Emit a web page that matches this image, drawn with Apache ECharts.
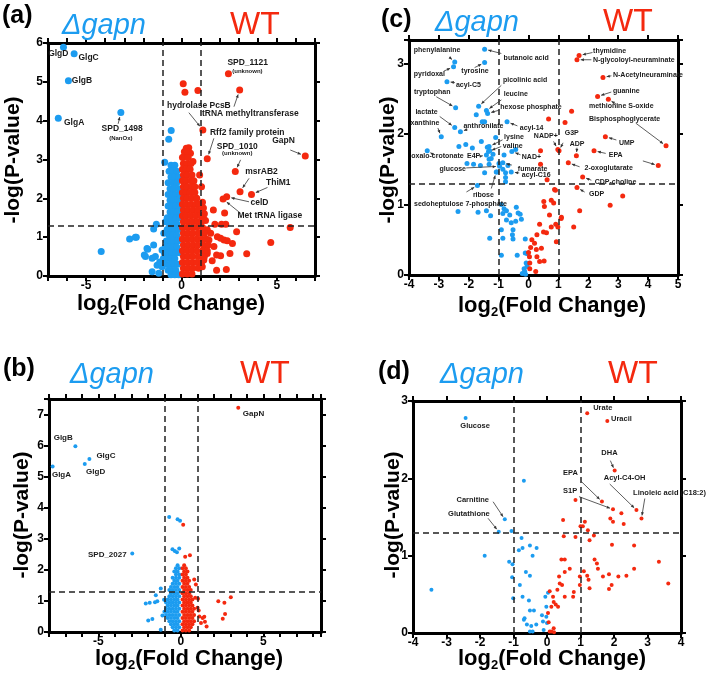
<!DOCTYPE html>
<html><head><meta charset="utf-8">
<script src="https://cdn.jsdelivr.net/npm/echarts@6/dist/echarts.min.js"></script>
<style>html,body{margin:0;padding:0;background:#fff}#c{width:709px;height:677px}</style>
</head><body><div id="c"></div>
<script>
// ---------------- DATA ----------------
// thresholds: log2FC = ±1, -log10(p) = 1.3
const fcCut = [-1, 1];
const pCut = 1.3;

// Panel (a) proteome
const aBlueLabeled = [['GlgD',-6.19,5.89],['GlgC',-5.63,5.72],['GlgB',-5.93,5.03],['GlgA',-6.46,4.06],['SPD_1498',-3.18,4.21]];
const aBlue = [[-0.54,3.75],[-0.67,3.52],[-0.88,2.93],[-4.21,0.63],[-2.72,0.95],[-2.42,1.0],[-1.32,1.33],[-1.46,1.21],[-2.37,1.0],
 [-1.81,0.71],[-1.46,0.8],[-1.37,0.5],[-1.54,0.46],[-1.89,0.5],[-1.28,0.28],[-1.54,0.11],[-1.02,0.24],[-1.95,0.54],[-1.77,0.69],
 [-1.19,0.07],[-0.93,1.1],[-0.84,1.4],[-1.02,0.67],[-1.14,0.36],
 [-0.55,2.85],[-0.35,2.85],[-0.65,2.7],[-0.45,2.7],[-0.25,2.7],[-0.55,2.55],[-0.35,2.55],[-0.15,2.55],[-0.7,2.4],[-0.45,2.4],[-0.25,2.4],
 [-0.6,2.25],[-0.4,2.25],[-0.15,2.25],[-0.7,2.1],[-0.5,2.1],[-0.3,2.1],[-0.1,2.1],[-0.6,1.95],[-0.4,1.95],[-0.2,1.95],
 [-0.7,1.8],[-0.5,1.8],[-0.3,1.8],[-0.1,1.8],[-0.6,1.65],[-0.4,1.65],[-0.2,1.65],[-0.75,1.5],[-0.5,1.5],[-0.3,1.5],[-0.1,1.5],
 [-0.65,1.35],[-0.45,1.35],[-0.25,1.35],[-0.75,1.2],[-0.55,1.2],[-0.35,1.2],[-0.15,1.2],[-0.65,1.05],[-0.45,1.05],[-0.25,1.05],
 [-0.8,0.9],[-0.6,0.9],[-0.4,0.9],[-0.2,0.9],[-0.85,0.75],[-0.65,0.75],[-0.45,0.75],[-0.25,0.75],
 [-0.9,0.6],[-0.7,0.6],[-0.5,0.6],[-0.3,0.6],[-0.1,0.6],[-0.95,0.45],[-0.75,0.45],[-0.55,0.45],[-0.35,0.45],
 [-0.85,0.3],[-0.6,0.3],[-0.4,0.3],[-0.2,0.3],[-0.7,0.15],[-0.5,0.15],[-0.3,0.15],[-0.55,0.03],[-0.35,0.03],[-0.15,0.03]];
const aRedLabeled = [['SPD_1121',2.46,5.21],['tRNA methyltransferase',3.05,4.79],['hydrolase PcsB',1.12,3.76],['Rff2 family protein',1.35,3.02],
 ['GapN',6.49,3.09],['SPD_1010',2.82,2.69],['msrAB2',3.07,2.17],['ThiM1',3.67,2.10],['celD',2.37,2.04],['Met tRNA ligase',2.18,1.98]];
const aRed = [[0.09,4.95],[0.18,4.73],[0.86,4.78],[0.25,3.29],[0.47,3.16],[0.12,3.07],[0.38,3.3],[0.6,2.95],
 [5.70,1.25],[4.68,0.86],[3.42,0.57],[2.89,1.14],[2.54,0.58],[1.84,0.54],[1.61,0.39],[1.84,0.15],[1.67,1.70],[2.26,1.62],
 [1.26,1.43],[1.75,1.33],[2.1,1.33],[2.32,1.33],[1.14,1.51],[1.53,1.10],[1.88,1.01],[2.23,0.93],[2.67,0.84],[2.40,0.91],[2.05,0.97],
 [1.35,1.19],[1.44,0.93],[1.26,0.76],[1.70,0.76],[1.35,0.58],[1.17,0.41],[1.09,0.24],[2.05,0.52],[2.35,0.17],
 [1.05,2.3],[1.1,1.9],[1.15,1.75],[1.2,1.6],[0.95,2.6],
 [0.15,3.2],[0.3,3.2],[0.05,3.05],[0.35,3.05],[0.1,2.9],[0.3,2.9],[0.5,2.9],[0.05,2.75],[0.25,2.75],[0.45,2.75],
 [0.1,2.6],[0.3,2.6],[0.55,2.6],[0.05,2.45],[0.25,2.45],[0.5,2.45],[0.65,2.45],[0.1,2.3],[0.3,2.3],[0.55,2.3],[0.7,2.3],
 [0.05,2.15],[0.25,2.15],[0.45,2.15],[0.7,2.15],[0.1,2.0],[0.3,2.0],[0.55,2.0],[0.8,2.0],
 [0.05,1.85],[0.25,1.85],[0.5,1.85],[0.75,1.85],[0.9,1.85],[0.1,1.7],[0.35,1.7],[0.6,1.7],[0.85,1.7],
 [0.05,1.55],[0.25,1.55],[0.5,1.55],[0.75,1.55],[1.0,1.55],[0.1,1.4],[0.35,1.4],[0.6,1.4],[0.85,1.4],[1.05,1.4],
 [0.05,1.25],[0.3,1.25],[0.55,1.25],[0.8,1.25],[1.1,1.25],[0.1,1.1],[0.35,1.1],[0.6,1.1],[0.9,1.1],[1.2,1.1],
 [0.05,0.95],[0.3,0.95],[0.55,0.95],[0.8,0.95],[1.05,0.95],[1.3,0.95],[0.1,0.8],[0.35,0.8],[0.6,0.8],[0.85,0.8],[1.15,0.8],[1.4,0.8],
 [0.05,0.65],[0.3,0.65],[0.55,0.65],[0.8,0.65],[1.1,0.65],[1.35,0.65],[0.1,0.5],[0.35,0.5],[0.6,0.5],[0.9,0.5],[1.2,0.5],
 [0.05,0.35],[0.3,0.35],[0.55,0.35],[0.8,0.35],[1.05,0.35],[0.1,0.2],[0.35,0.2],[0.6,0.2],[0.9,0.2],[0.05,0.05],[0.3,0.05],[0.55,0.05]];

// Panel (b) proteome
const bBlueLabeled = [['GlgB',-6.40,5.98],['GlgC',-5.55,5.57],['GlgD',-5.83,5.41],['GlgA',-7.78,5.33],['SPD_2027',-2.95,2.53]];
const bBlue = [[-0.71,3.70],[-0.20,3.63],[-0.05,3.58],[-0.51,2.66],[-0.10,2.69],[-0.37,2.61],[-0.24,2.57],
 [-1.22,1.40],[-1.52,1.18],[-1.43,0.99],[-1.89,0.94],[-1.57,0.96],[-1.73,0.42],[-1.98,0.37],[-1.22,0.07],[-1.12,0.53],[-2.13,0.92],[-1.02,1.04],
 [-0.2,2.15],[-0.3,2.05],[-0.1,2.05],[-0.4,1.95],[-0.2,1.95],[-0.3,1.85],[-0.1,1.85],[-0.5,1.75],[-0.3,1.75],[-0.1,1.75],
 [-0.4,1.65],[-0.2,1.65],[-0.5,1.55],[-0.3,1.55],[-0.1,1.55],[-0.6,1.45],[-0.4,1.45],[-0.2,1.45],
 [-0.7,1.35],[-0.5,1.35],[-0.3,1.35],[-0.1,1.35],[-0.6,1.25],[-0.4,1.25],[-0.2,1.25],[-0.7,1.15],[-0.5,1.15],[-0.3,1.15],[-0.1,1.15],
 [-0.8,1.05],[-0.6,1.05],[-0.4,1.05],[-0.2,1.05],[-0.9,0.95],[-0.7,0.95],[-0.5,0.95],[-0.3,0.95],[-0.1,0.95],
 [-0.8,0.85],[-0.6,0.85],[-0.4,0.85],[-0.2,0.85],[-0.9,0.75],[-0.7,0.75],[-0.5,0.75],[-0.3,0.75],[-0.1,0.75],
 [-1.0,0.65],[-0.8,0.65],[-0.6,0.65],[-0.4,0.65],[-0.2,0.65],[-0.9,0.55],[-0.7,0.55],[-0.5,0.55],[-0.3,0.55],[-0.1,0.55],
 [-0.8,0.45],[-0.6,0.45],[-0.4,0.45],[-0.2,0.45],[-0.7,0.35],[-0.5,0.35],[-0.3,0.35],[-0.1,0.35],
 [-0.6,0.25],[-0.4,0.25],[-0.2,0.25],[-0.5,0.15],[-0.3,0.15],[-0.1,0.15],[-0.4,0.05],[-0.2,0.05]];
const bRedLabeled = [['GapN',3.48,7.22]];
const bRed = [[0.14,3.45],[0.55,2.47],[0.26,2.42],[3.03,1.12],[2.27,0.99],[2.64,0.94],[2.68,0.58],[2.54,0.43],[1.42,0.49],[1.56,0.18],
 [1.46,0.33],[0.81,1.69],[0.91,1.53],[0.87,1.10],[1.01,0.78],[1.12,0.50],[1.22,0.29],[1.32,0.45],[1.08,0.69],[1.04,1.07],
 [0.2,2.15],[0.1,2.05],[0.3,2.05],[0.2,1.95],[0.4,1.95],[0.1,1.85],[0.3,1.85],[0.2,1.75],[0.4,1.75],
 [0.1,1.65],[0.3,1.65],[0.5,1.65],[0.2,1.55],[0.4,1.55],[0.1,1.45],[0.3,1.45],[0.5,1.45],[0.2,1.35],[0.4,1.35],[0.6,1.35],
 [0.1,1.25],[0.3,1.25],[0.5,1.25],[0.2,1.15],[0.4,1.15],[0.6,1.15],[0.1,1.05],[0.3,1.05],[0.5,1.05],[0.7,1.05],
 [0.2,0.95],[0.4,0.95],[0.6,0.95],[0.1,0.85],[0.3,0.85],[0.5,0.85],[0.7,0.85],[0.2,0.75],[0.4,0.75],[0.6,0.75],[0.8,0.75],
 [0.1,0.65],[0.3,0.65],[0.5,0.65],[0.7,0.65],[0.2,0.55],[0.4,0.55],[0.6,0.55],[0.8,0.55],[0.1,0.45],[0.3,0.45],[0.5,0.45],[0.7,0.45],
 [0.2,0.35],[0.4,0.35],[0.6,0.35],[0.8,0.35],[0.1,0.25],[0.3,0.25],[0.5,0.25],[0.7,0.25],[0.2,0.15],[0.4,0.15],[0.6,0.15],
 [0.1,0.05],[0.3,0.05],[0.5,0.05]];

// Panel (c) metabolome
const cBlueLabeled = [['phenylalanine',-2.47,3.02],['pyridoxal',-2.51,2.95],['tyrosine',-1.47,3.01],['butanoic acid',-1.47,3.20],
 ['acyl-C5',-2.73,2.74],['tryptophan',-2.44,2.37],['picolinic acid',-1.67,2.39],['leucine',-1.41,2.33],['hexose phosphate',-1.37,2.29],
 ['lactate',-2.47,2.09],['anthronilate',-2.28,2.03],['xanthine',-2.92,1.96],['acyl-14',-0.72,2.17],['lysine',-1.32,1.82],['valine',-1.34,1.75],
 ['oxalo-crotonate',-3.39,1.76],['E4P',-1.41,1.70],['NAD+',-0.56,1.75],['glucose',-0.97,1.54],['fumarate',-0.86,1.59],['acyl-C16',-0.58,1.46],
 ['ribose',-1.08,1.46],['sedoheptulose 7-phosphate',-1.71,1.27]];
const cBlue = [[-1.75,2.27],[-1.55,2.17],[-1.47,2.17],[-1.10,1.95],[-0.43,1.78],[-2.33,1.82],[-2.10,1.85],[-1.88,1.80],[-2.06,1.58],[-1.84,1.57],
 [-1.58,1.89],[-1.38,1.81],[-1.30,1.76],[-1.32,1.64],[-1.32,1.57],[-1.61,1.55],[-1.47,1.45],[-0.82,1.70],[-0.77,1.45],[-0.77,1.38],[-0.77,1.32],
 [-0.99,1.58],[-1.06,1.46],[-1.19,1.71],[-1.25,1.65],[-0.86,1.50],[-0.69,1.55],
 [-2.36,0.90],[-1.69,0.89],[-1.41,0.91],[-1.27,0.84],[-0.91,1.00],[-0.82,0.94],[-0.74,0.91],[-0.63,0.85],[-0.41,0.96],[-0.35,0.88],[-0.28,0.86],
 [-0.86,0.87],[-0.43,0.76],[-0.24,0.79],[-0.74,0.78],[-0.58,0.74],[-0.91,0.64],[-0.52,0.64],[-0.86,0.52],[-0.54,0.57],[-0.52,0.51],[-0.11,0.51],
 [-1.30,0.52],[-0.91,0.28],[-0.38,0.28],[-0.11,0.31],[-0.04,0.30],[-0.15,0.09],[-0.21,0.02],[-0.13,0.05],[-0.08,0.17],[-0.05,0.12],[-0.10,0.01]];
const cRedLabeled = [['thymidine',1.69,3.11],['N-glycoloyl-neuraminate',1.62,3.05],['N-Acetylneuraminate',2.49,2.80],['guanine',2.31,2.53],
 ['methionine S-oxide',2.67,2.49],['Bisphosphoglycerate',4.60,1.83],['UMP',2.57,1.96],['EPA',2.19,1.76],['arrow',4.34,1.55],
 ['NADP+',0.98,1.78],['G3P',1.02,1.76],['ADP',1.60,1.69],['2-oxoglutarate',1.33,1.59],['CDP-choline',1.81,1.39],['GDP',1.62,1.24]];
const cRed = [[1.44,2.32],[1.22,2.16],[0.67,2.21],[0.40,1.76],[0.40,1.57],[0.62,1.35],[3.15,1.12],[2.73,0.99],[1.71,0.91],[1.51,0.68],
 [0.87,1.21],[0.76,1.06],[0.84,1.02],[0.51,1.04],[0.53,0.97],[1.09,0.80],[0.70,0.85],[0.37,0.72],[0.76,0.68],[0.91,0.72],[0.98,0.68],
 [0.93,0.47],[0.50,0.61],[0.28,0.57],[0.11,0.50],[0.20,0.45],[0.26,0.36],[0.43,0.38],[0.07,0.39],[0.00,0.32],[0.03,0.26],[0.28,0.26],
 [0.37,0.19],[0.04,0.17],[0.04,0.09],[0.24,0.05],[1.10,0.82],[0.60,0.60],[0.52,0.20],[0.90,1.20]];

// Panel (d) lipidome/metabolome
const dBlueLabeled = [['Glucose',-2.43,2.78],['Carnitine',-1.26,1.47],['Glutathione',-1.44,1.31]];
const dBlue = [[-0.69,1.97],[-1.06,1.32],[-1.86,1.00],[-3.45,0.56],[-0.76,1.23],[-0.84,1.07],[-0.73,1.10],[-0.51,1.13],[-0.31,1.10],[-0.43,1.00],
 [-1.13,0.92],[-1.03,0.89],[-1.04,0.72],[-0.63,0.79],[-0.51,0.74],[-0.81,0.62],[-1.01,0.45],[-0.73,0.47],[-0.54,0.42],[-0.67,0.19],[-0.69,0.17],
 [-0.51,0.29],[-0.39,0.29],[-0.60,0.11],[-0.47,0.09],[-0.51,0.02],[-0.43,0.02],[-0.32,0.11],[-0.15,0.23],[-0.12,0.15],[-0.02,0.21],[0.00,0.13],
 [-0.05,0.47],[0.03,0.52],[-0.02,0.34],[-0.10,0.04]];
const dRedLabeled = [['Urate',1.20,2.84],['Uracil',1.80,2.74],['DHA',2.02,2.10],['EPA',1.64,1.70],['S1P',1.97,1.60],['Acyl-C4-OH',2.67,1.59],
 ['Linoleic acid (C18:2)',2.82,1.48]];
const dRed = [[0.85,1.72],[2.22,1.55],[1.89,1.48],[1.97,1.44],[2.29,1.41],[0.48,1.46],[1.13,1.44],[1.07,1.38],[1.22,1.33],[1.27,1.20],[1.40,1.26],
 [0.50,1.25],[0.85,1.24],[1.00,1.38],[1.94,1.14],[2.60,1.13],[3.34,0.92],[3.62,0.64],[2.60,0.83],[2.37,0.74],[2.13,0.73],[1.93,0.62],[1.85,0.76],
 [1.85,0.57],[1.67,0.73],[1.49,0.90],[1.42,0.95],[1.52,0.83],[1.10,0.80],[1.20,0.74],[1.24,0.69],[1.27,0.58],[0.98,0.62],[0.98,0.73],[0.80,0.53],
 [0.78,0.47],[0.53,0.47],[0.68,0.83],[0.53,0.79],[0.43,0.95],[0.53,0.95],[0.36,0.73],[0.38,0.64],[0.31,0.56],[0.45,0.62],[0.08,0.54],[0.18,0.47],
 [0.20,0.40],[0.26,0.37],[0.33,0.34],[0.13,0.34],[0.03,0.26],[0.05,0.14],[0.20,0.06],[0.13,0.02],[0.21,0.01],[0.08,0.02]];

// text
const leftLabel = 'Δgapn', rightLabel = 'WT';
const yTitle = '-log(P-value)';
const panelNames = ['(a)','(c)','(b)','(d)'];

// ---------------- LAYOUT / STYLE ----------------
const FONT = '"Liberation Sans", Arial, Helvetica, sans-serif';
const BLUE = '#1c9cf0', RED = '#f4290f';
const grids = [
  {left:48, top:43, width:267, height:233},
  {left:409, top:40, width:269, height:235},
  {left:49, top:399, width:272, height:233},
  {left:413, top:401, width:268, height:232}
];
const ranges = [
  {x:[-7,7], y:[0,6], every:5, sym:7},
  {x:[-4,5], y:[0,3.33], every:1, sym:5},
  {x:[-8,8.5], y:[0,7.5], every:5, sym:4},
  {x:[-4,4], y:[0,3], every:1, sym:4}
];

const chart = echarts.init(document.getElementById('c'), null, {renderer:'canvas'});
const xAxis = [], yAxis = [];
const lineS = {show:true, onZero:false, lineStyle:{color:'#000', width:3}};
const tickS = {show:true, length:5, lineStyle:{color:'#000', width:2}};
ranges.forEach((r, g) => {
  const lab = {fontSize:12, fontWeight:'bold', color:'#000', fontFamily:FONT, margin:5};
  xAxis.push({gridIndex:g, type:'value', position:'bottom', min:r.x[0], max:r.x[1], interval:1,
    axisLine:lineS, axisTick:tickS, splitLine:{show:false},
    axisLabel:{...lab, margin:4, showMinLabel:true, showMaxLabel:true,
      formatter:v => (Number.isInteger(v) && v % r.every === 0) ? String(v) : ''}});
  xAxis.push({gridIndex:g, type:'value', position:'top', min:r.x[0], max:r.x[1], interval:1,
    axisLine:lineS, axisTick:tickS, splitLine:{show:false}, axisLabel:{show:false}});
  yAxis.push({gridIndex:g, type:'value', position:'left', min:r.y[0], max:r.y[1], interval:1,
    axisLine:lineS, axisTick:tickS, splitLine:{show:false},
    axisLabel:{...lab, showMinLabel:true, formatter:v => Number.isInteger(v) ? String(v) : ''}});
  yAxis.push({gridIndex:g, type:'value', position:'right', min:r.y[0], max:r.y[1], interval:1,
    axisLine:lineS, axisTick:tickS, splitLine:{show:false}, axisLabel:{show:false}});
});

const pts = (arr, lab) => arr.concat(lab.map(d => [d[1], d[2]]));
const panelData = [
  [pts(aBlue, aBlueLabeled), pts(aRed, aRedLabeled)],
  [pts(cBlue, cBlueLabeled), pts(cRed, cRedLabeled)],
  [pts(bBlue, bBlueLabeled), pts(bRed, bRedLabeled)],
  [pts(dBlue, dBlueLabeled), pts(dRed, dRedLabeled)]
];
const series = [];
panelData.forEach((pd, g) => {
  [BLUE, RED].forEach((col, k) => {
    const s = {type:'scatter', xAxisIndex:2*g, yAxisIndex:2*g, data:pd[k], symbol:'circle',
      symbolSize:ranges[g].sym, itemStyle:{color:col, opacity:1}, silent:true, z:2};
    if (k === 0) {
      s.markLine = {silent:true, symbol:['none','none'], label:{show:false}, animation:false, z:3,
        lineStyle:{type:[6,4], color:'#222', width:1.5},
        emphasis:{disabled:true},
        data:[{xAxis:fcCut[0]}, {xAxis:fcCut[1]}, {yAxis:pCut}]};
    }
    series.push(s);
  });
});

chart.setOption({
  animation:false,
  backgroundColor:'#fff',
  grid: grids.map(g => ({...g, containLabel:false, outerBoundsMode:'none'})),
  xAxis, yAxis, series
});

// ---------- annotations ----------
const aLayout = {
 'GlgD':{tx:-15.3,ty:6.7}, 'GlgC':{tx:4.3,ty:3.3}, 'GlgB':{tx:3.4,ty:0}, 'GlgA':{tx:5.7,ty:4.4},
 'SPD_1498':{tx:1.3,ty:16.3,al:'center',sub:'(NanOx)',sx:0,sy:26,ax:-2.7,ay:11.3},
 'SPD_1121':{tx:19.3,ty:-11,al:'center',sub:'(unknown)',sx:19,sy:-2},
 'hydrolase PcsB':{tx:-4,ty:-24,al:'center',ax:-14,ay:-17.3},
 'tRNA methyltransferase':{tx:10.7,ty:24,al:'center',ax:-5.7,ay:16.7},
 'Rff2 family protein':{tx:40,ty:-26.4,al:'center',ax:6.6,ay:-20.4},
 'GapN':{tx:-21.8,ty:-15,al:'center',ax:-15,ay:-6},
 'SPD_1010':{tx:2,ty:-25,al:'center',sub:'(unknown)',sx:2,sy:-17.7,ax:5.3,ay:-11.7},
 'msrAB2':{tx:21.5,ty:-20,al:'center',ax:9,ay:-13.4},
 'ThiM1':{tx:26.8,ty:-11.6,al:'center',ax:16,ay:-7},
 'celD':{tx:32.7,ty:6,al:'center',ax:22.3,ay:5},
 'Met tRNA ligase':{tx:46.7,ty:16.7,al:'center',ax:17.7,ay:14.3}
};
const bLayout = {
 'GapN':{tx:4.6,ty:6}, 'GlgB':{tx:-21.7,ty:-8.6}, 'GlgC':{tx:7,ty:-2.7}, 'GlgD':{tx:1.3,ty:7.7}, 'GlgA':{tx:-0.7,ty:8},
 'SPD_2027':{tx:-5.6,ty:1.3,al:'right'}
};
const cLayout = {
 'phenylalanine':{tx:-41,ty:-11.7,ax:-5.7,ay:-5}, 'pyridoxal':{tx:-39.7,ty:7.3,ax:-9.7,ay:4.3},
 'tyrosine':{tx:-23.3,ty:8,ax:-10,ay:5}, 'butanoic acid':{tx:19,ty:9.3,ax:16.7,ay:4.3},
 'acyl-C5':{tx:9,ty:3.3,ax:8,ay:1}, 'tryptophan':{tx:-41.7,ty:-16,ax:-19.3,ay:-11},
 'picolinic acid':{tx:24.3,ty:-26.7,ax:22.7,ay:-21}, 'leucine':{tx:17.3,ty:-16.3,ax:15,ay:-10.7},
 'hexose phosphate':{tx:12.7,ty:-6.7,ax:12,ay:-3.3}, 'lactate':{tx:-39.3,ty:-15.3,ax:-15,ay:-11},
 'anthronilate':{tx:3,ty:-6,ax:7,ay:-2.4}, 'xanthine':{tx:-30.7,ty:-13.7,ax:-3.4,ay:-8.7},
 'acyl-14':{tx:12.7,ty:6.7,ax:10.4,ay:4}, 'lysine':{tx:15,ty:-9.4,ax:13.4,ay:-6.7}, 'valine':{tx:14.3,ty:-5.7,ax:12.7,ay:-5},
 'oxalo-crotonate':{tx:-16,ty:5.7,ax:5,ay:3}, 'E4P':{tx:-19.4,ty:1.3,ax:-5,ay:1}, 'NAD+':{tx:10,ty:5.6,ax:8.7,ay:3.3},
 'glucose':{tx:-60,ty:2.6,ax:-33.3,ay:1.6}, 'fumarate':{tx:15,ty:6.6,ax:9,ay:2.3}, 'acyl-C16':{tx:10.6,ty:3,ax:8,ay:1},
 'ribose':{tx:-23.4,ty:22.6,ax:-5,ay:16.6}, 'sedoheptulose 7-phosphate':{tx:-63.4,ty:18.3,ax:-11,ay:6.6},
 'thymidine':{tx:14,ty:-4,ax:13.4,ay:-3}, 'N-glycoloyl-neuraminate':{tx:16,ty:0,ax:14.4,ay:0},
 'N-Acetylneuraminate':{tx:10,ty:-2.3,ax:8.4,ay:-1.6}, 'guanine':{tx:15.3,ty:-5.7,ax:13.7,ay:-4.4},
 'methionine S-oxide':{tx:-19.4,ty:7,ax:8,ay:5}, 'Bisphosphoglycerate':{tx:-77,ty:-26.7,ax:-30.3,ay:-22.7},
 'UMP':{tx:13.6,ty:6,ax:11,ay:3.3}, 'EPA':{tx:14.7,ty:4.6,ax:11.7,ay:2.6}, 'arrow':{t:'',ax:-15.4,ay:-4.7},
 'NADP+':{tx:-24,ty:-13.6,ax:-4.3,ay:-8}, 'G3P':{tx:5.7,ty:-18,ax:4,ay:-8}, 'ADP':{tx:-6.7,ty:-11.7,ax:0.6,ay:-8},
 '2-oxoglutarate':{tx:16.3,ty:5.6,ax:11.3,ay:4}, 'CDP-choline':{tx:12,ty:5,ax:8.7,ay:3.3}, 'GDP':{tx:12,ty:6.6,ax:7.7,ay:4.6}
};
const dLayout = {
 'Glucose':{tx:-5.3,ty:7.7}, 'Carnitine':{tx:-48.3,ty:-19.3,ax:-11.7,ay:-17.6},
 'Glutathione':{tx:-50.7,ty:-17.7,ax:-10.7,ay:-13.4}, 'Urate':{tx:6,ty:-5}, 'Uracil':{tx:3.7,ty:-1.7},
 'DHA':{tx:-13.3,ty:-17.4,ax:-4.3,ay:-10}, 'EPA':{tx:-39,ty:-29,ax:-20.6,ay:-20},
 'S1P':{tx:-50,ty:-18.3,ax:-34,ay:-12.6}, 'Acyl-C4-OH':{tx:-32.7,ty:-31.7,ax:-26.7,ay:-26},
 'Linoleic acid (C18:2)':{tx:-8.4,ty:-26,ax:3.3,ay:-20}
};

const gfx = [];
function txt(text, x, y, font, fill, align, vAlign, extra) {
  return Object.assign({type:'text', z:100, silent:true, style:{text, x, y, font, fill,
    align, textAlign:align, verticalAlign:vAlign, textVerticalAlign:vAlign}}, extra || {});
}
function notes(seriesIndex, labeled, layout, font, subFont, r) {
  labeled.forEach(([name, x, y]) => {
    const L = layout[name]; if (!L) return;
    const p = chart.convertToPixel({seriesIndex}, [x, y]);
    const t = (L.t !== undefined) ? L.t : name;
    if (t) gfx.push(txt(t, p[0] + L.tx, p[1] + L.ty, font, '#1a1a1a', L.al || 'left', 'middle'));
    if (L.sub) gfx.push(txt(L.sub, p[0] + L.sx, p[1] + L.sy, subFont, '#1a1a1a', 'center', 'middle'));
    if (L.ax !== undefined) {
      const sx = p[0] + L.ax, sy = p[1] + L.ay;
      const dx = sx - p[0], dy = sy - p[1], len = Math.hypot(dx, dy) || 1;
      const ux = dx / len, uy = dy / len, gap = r / 2 + 1.2;
      const ex = p[0] + ux * gap, ey = p[1] + uy * gap;
      gfx.push({type:'line', z:99, silent:true, shape:{x1:sx, y1:sy, x2:ex, y2:ey}, style:{stroke:'#333', lineWidth:0.8}});
      const hl = 3.2, hw = 1.5, bx = ex + ux * hl, by = ey + uy * hl;
      gfx.push({type:'polygon', z:99, silent:true, shape:{points:[[ex,ey],[bx - uy*hw, by + ux*hw],[bx + uy*hw, by - ux*hw]]}, style:{fill:'#333'}});
    }
  });
}
notes(0, aBlueLabeled, aLayout, `bold 8.5px ${FONT}`, `bold 6px ${FONT}`, 7);
notes(1, aRedLabeled, aLayout, `bold 8.5px ${FONT}`, `bold 6px ${FONT}`, 7);
notes(2, cBlueLabeled, cLayout, `bold 7px ${FONT}`, `bold 6px ${FONT}`, 5);
notes(3, cRedLabeled, cLayout, `bold 7px ${FONT}`, `bold 6px ${FONT}`, 5);
notes(4, bBlueLabeled, bLayout, `bold 8px ${FONT}`, `bold 6px ${FONT}`, 4);
notes(5, bRedLabeled, bLayout, `bold 8px ${FONT}`, `bold 6px ${FONT}`, 4);
notes(6, dBlueLabeled, dLayout, `bold 7.5px ${FONT}`, `bold 6px ${FONT}`, 4);
notes(7, dRedLabeled, dLayout, `bold 7.5px ${FONT}`, `bold 6px ${FONT}`, 4);

// panel headings & axis titles
const heads = [
  {lab:[2,16], gap:[62,26], wt:[230,25], yt:[13,160], xt:[171,304]},
  {lab:[381,20], gap:[435,23], wt:[603,22], yt:[388,160], xt:[552,306]},
  {lab:[3,369], gap:[70,375], wt:[240,374], yt:[22,515], xt:[189,659]},
  {lab:[378,372], gap:[440,375], wt:[608,374], yt:[393,515], xt:[552,659]}
];
heads.forEach((h, i) => {
  gfx.push(txt(panelNames[i], h.lab[0], h.lab[1], `bold 25px ${FONT}`, '#000', 'left', 'middle'));
  gfx.push(txt(leftLabel, h.gap[0], h.gap[1], `italic 29px ${FONT}`, BLUE, 'left', 'middle'));
  gfx.push(txt(rightLabel, h.wt[0], h.wt[1], `32px ${FONT}`, RED, 'left', 'middle'));
  gfx.push({type:'text', z:100, silent:true, x:h.yt[0], y:h.yt[1], rotation:Math.PI/2,
    style:{text:yTitle, x:0, y:0, font:`bold 21px ${FONT}`, fill:'#000', align:'center', textAlign:'center', verticalAlign:'middle', textVerticalAlign:'middle'}});
  gfx.push({type:'text', z:100, silent:true, x:h.xt[0], y:h.xt[1],
    style:{text:'{a|log}{s|2}{a|(Fold Change)}', x:0, y:0, align:'center', textAlign:'center', verticalAlign:'middle', textVerticalAlign:'middle',
      rich:{a:{fontSize:22, fontWeight:'bold', fontFamily:FONT, fill:'#000', color:'#000', lineHeight:26, verticalAlign:'middle'},
            s:{fontSize:13, fontWeight:'bold', fontFamily:FONT, fill:'#000', color:'#000', lineHeight:10, verticalAlign:'bottom'}}}});
});
chart.setOption({graphic:{elements:gfx}});
</script></body></html>
